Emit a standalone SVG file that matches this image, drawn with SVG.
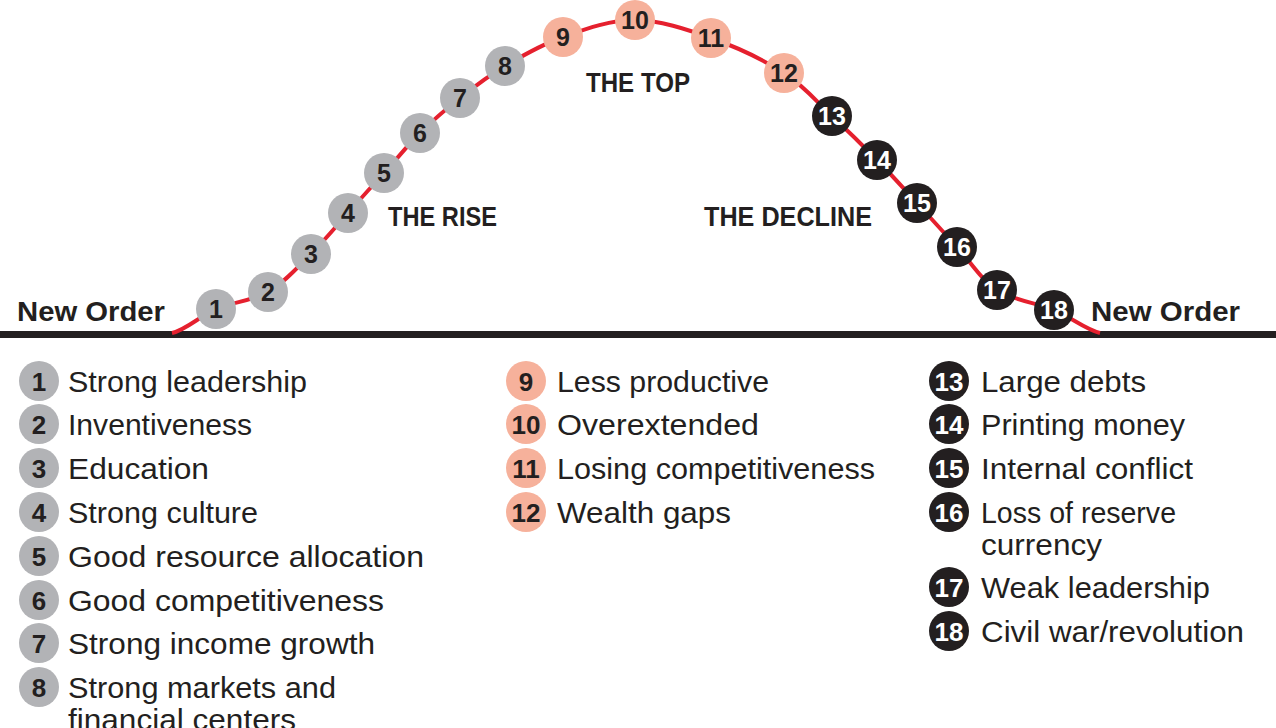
<svg xmlns="http://www.w3.org/2000/svg" width="1276" height="728" viewBox="0 0 1276 728">
<style>
.g{fill:#b2b3b6}.s{fill:#f6b19b}.k{fill:#231f20}
.n{font-family:"Liberation Sans",Arial,sans-serif;font-weight:bold;font-size:25px;text-anchor:middle;fill:#231f20}
.ln{font-family:"Liberation Sans",Arial,sans-serif;font-weight:bold;font-size:26px;text-anchor:middle;fill:#231f20}
.t{font-family:"Liberation Sans",Arial,sans-serif;font-size:29px;fill:#231f20}
.h{font-family:"Liberation Sans",Arial,sans-serif;font-weight:bold;font-size:28px;fill:#231f20}
text.w{fill:#ffffff}
</style>
<rect width="1276" height="728" fill="#ffffff"/>
<rect x="0" y="331" width="1276" height="7" fill="#231f20"/>
<g id="connectors">
<path fill="none" stroke="#e5202e" stroke-width="4" d="M172,333 C186,330 200,316 216,309 C232,302 252,301 268,292 C284,283 298,267 311,254 C324,241 336,226.5 348,213 C360,199.5 372,186 384,173 C396,160 407.3,145.5 420,133 C432.7,120.5 445.8,109.2 460,98 C474.2,86.8 487.8,76.2 505,66 C522.2,55.8 541.3,44.7 563,37 C584.7,29.3 610.3,19.8 635,20 C659.7,20.2 686.2,29.2 711,38 C735.8,46.8 763.8,60 784,73 C804.2,86 816.5,101.5 832,116 C847.5,130.5 862.8,145.5 877,160 C891.2,174.5 903.7,188.5 917,203 C930.3,217.5 943.7,232.5 957,247 C970.3,261.5 980.8,279.5 997,290 C1013.2,300.5 1036.8,302.7 1054,310 C1071.2,317.3 1085.7,329.7 1100,333"/>
</g>
<g id="labels">
<text class="h" x="17" y="321" textLength="148" lengthAdjust="spacingAndGlyphs">New Order</text>
<text class="h" x="1091" y="321" textLength="149" lengthAdjust="spacingAndGlyphs">New Order</text>
<text class="h" x="388" y="226" textLength="109" lengthAdjust="spacingAndGlyphs">THE RISE</text>
<text class="h" x="586" y="92" textLength="104" lengthAdjust="spacingAndGlyphs">THE TOP</text>
<text class="h" x="704" y="226" textLength="168" lengthAdjust="spacingAndGlyphs">THE DECLINE</text>
</g>
<g id="node-1"><circle class="g" cx="216" cy="309" r="20"/><text class="n" x="216" y="318">1</text></g>
<g id="node-2"><circle class="g" cx="268" cy="292" r="20"/><text class="n" x="268" y="301">2</text></g>
<g id="node-3"><circle class="g" cx="311" cy="254" r="20"/><text class="n" x="311" y="263">3</text></g>
<g id="node-4"><circle class="g" cx="348" cy="213" r="20"/><text class="n" x="348" y="222">4</text></g>
<g id="node-5"><circle class="g" cx="384" cy="173" r="20"/><text class="n" x="384" y="182">5</text></g>
<g id="node-6"><circle class="g" cx="420" cy="133" r="20"/><text class="n" x="420" y="142">6</text></g>
<g id="node-7"><circle class="g" cx="460" cy="98" r="20"/><text class="n" x="460" y="107">7</text></g>
<g id="node-8"><circle class="g" cx="505" cy="66" r="20"/><text class="n" x="505" y="75">8</text></g>
<g id="node-9"><circle class="s" cx="563" cy="37" r="20"/><text class="n" x="563" y="46">9</text></g>
<g id="node-10"><circle class="s" cx="635" cy="20" r="20"/><text class="n" x="635" y="29">10</text></g>
<g id="node-11"><circle class="s" cx="711" cy="38" r="20"/><text class="n" x="711" y="47">11</text></g>
<g id="node-12"><circle class="s" cx="784" cy="73" r="20"/><text class="n" x="784" y="82">12</text></g>
<g id="node-13"><circle class="k" cx="832" cy="116" r="20"/><text class="n w" x="832" y="125">13</text></g>
<g id="node-14"><circle class="k" cx="877" cy="160" r="20"/><text class="n w" x="877" y="169">14</text></g>
<g id="node-15"><circle class="k" cx="917" cy="203" r="20"/><text class="n w" x="917" y="212">15</text></g>
<g id="node-16"><circle class="k" cx="957" cy="247" r="20"/><text class="n w" x="957" y="256">16</text></g>
<g id="node-17"><circle class="k" cx="997" cy="290" r="20"/><text class="n w" x="997" y="299">17</text></g>
<g id="node-18"><circle class="k" cx="1054" cy="310" r="20"/><text class="n w" x="1054" y="319">18</text></g>
<g id="legend-1"><circle class="g" cx="39" cy="381" r="20"/><text class="ln" x="39" y="390.5">1</text><text class="t" x="68" y="392" textLength="239" lengthAdjust="spacingAndGlyphs">Strong leadership</text></g>
<g id="legend-2"><circle class="g" cx="39" cy="424" r="20"/><text class="ln" x="39" y="433.5">2</text><text class="t" x="68" y="435" textLength="184" lengthAdjust="spacingAndGlyphs">Inventiveness</text></g>
<g id="legend-3"><circle class="g" cx="39" cy="468" r="20"/><text class="ln" x="39" y="477.5">3</text><text class="t" x="68" y="479" textLength="141" lengthAdjust="spacingAndGlyphs">Education</text></g>
<g id="legend-4"><circle class="g" cx="39" cy="512" r="20"/><text class="ln" x="39" y="521.5">4</text><text class="t" x="68" y="523" textLength="190" lengthAdjust="spacingAndGlyphs">Strong culture</text></g>
<g id="legend-5"><circle class="g" cx="39" cy="556" r="20"/><text class="ln" x="39" y="565.5">5</text><text class="t" x="68" y="567" textLength="356" lengthAdjust="spacingAndGlyphs">Good resource allocation</text></g>
<g id="legend-6"><circle class="g" cx="39" cy="600" r="20"/><text class="ln" x="39" y="609.5">6</text><text class="t" x="68" y="611" textLength="316" lengthAdjust="spacingAndGlyphs">Good competitiveness</text></g>
<g id="legend-7"><circle class="g" cx="39" cy="643" r="20"/><text class="ln" x="39" y="652.5">7</text><text class="t" x="68" y="654" textLength="307" lengthAdjust="spacingAndGlyphs">Strong income growth</text></g>
<g id="legend-8"><circle class="g" cx="39" cy="687" r="20"/><text class="ln" x="39" y="696.5">8</text><text class="t" x="68" y="698" textLength="268" lengthAdjust="spacingAndGlyphs">Strong markets and</text><text class="t" x="68" y="730" textLength="228" lengthAdjust="spacingAndGlyphs">financial centers</text></g>
<g id="legend-9"><circle class="s" cx="526" cy="381" r="20"/><text class="ln" x="526" y="390.5">9</text><text class="t" x="557" y="392" textLength="212" lengthAdjust="spacingAndGlyphs">Less productive</text></g>
<g id="legend-10"><circle class="s" cx="526" cy="424" r="20"/><text class="ln" x="526" y="433.5">10</text><text class="t" x="557" y="435" textLength="202" lengthAdjust="spacingAndGlyphs">Overextended</text></g>
<g id="legend-11"><circle class="s" cx="526" cy="468" r="20"/><text class="ln" x="526" y="477.5">11</text><text class="t" x="557" y="479" textLength="318" lengthAdjust="spacingAndGlyphs">Losing competitiveness</text></g>
<g id="legend-12"><circle class="s" cx="526" cy="512" r="20"/><text class="ln" x="526" y="521.5">12</text><text class="t" x="557" y="523" textLength="174" lengthAdjust="spacingAndGlyphs">Wealth gaps</text></g>
<g id="legend-13"><circle class="k" cx="949" cy="381" r="20"/><text class="ln w" x="949" y="390.5">13</text><text class="t" x="981" y="392" textLength="165" lengthAdjust="spacingAndGlyphs">Large debts</text></g>
<g id="legend-14"><circle class="k" cx="949" cy="424" r="20"/><text class="ln w" x="949" y="433.5">14</text><text class="t" x="981" y="435" textLength="204" lengthAdjust="spacingAndGlyphs">Printing money</text></g>
<g id="legend-15"><circle class="k" cx="949" cy="468" r="20"/><text class="ln w" x="949" y="477.5">15</text><text class="t" x="981" y="479" textLength="212" lengthAdjust="spacingAndGlyphs">Internal conflict</text></g>
<g id="legend-16"><circle class="k" cx="949" cy="512" r="20"/><text class="ln w" x="949" y="521.5">16</text><text class="t" x="981" y="523" textLength="195" lengthAdjust="spacingAndGlyphs">Loss of reserve</text><text class="t" x="981" y="555" textLength="121" lengthAdjust="spacingAndGlyphs">currency</text></g>
<g id="legend-17"><circle class="k" cx="949" cy="587" r="20"/><text class="ln w" x="949" y="596.5">17</text><text class="t" x="981" y="598" textLength="229" lengthAdjust="spacingAndGlyphs">Weak leadership</text></g>
<g id="legend-18"><circle class="k" cx="949" cy="631" r="20"/><text class="ln w" x="949" y="640.5">18</text><text class="t" x="981" y="642" textLength="263" lengthAdjust="spacingAndGlyphs">Civil war/revolution</text></g>
</svg>
